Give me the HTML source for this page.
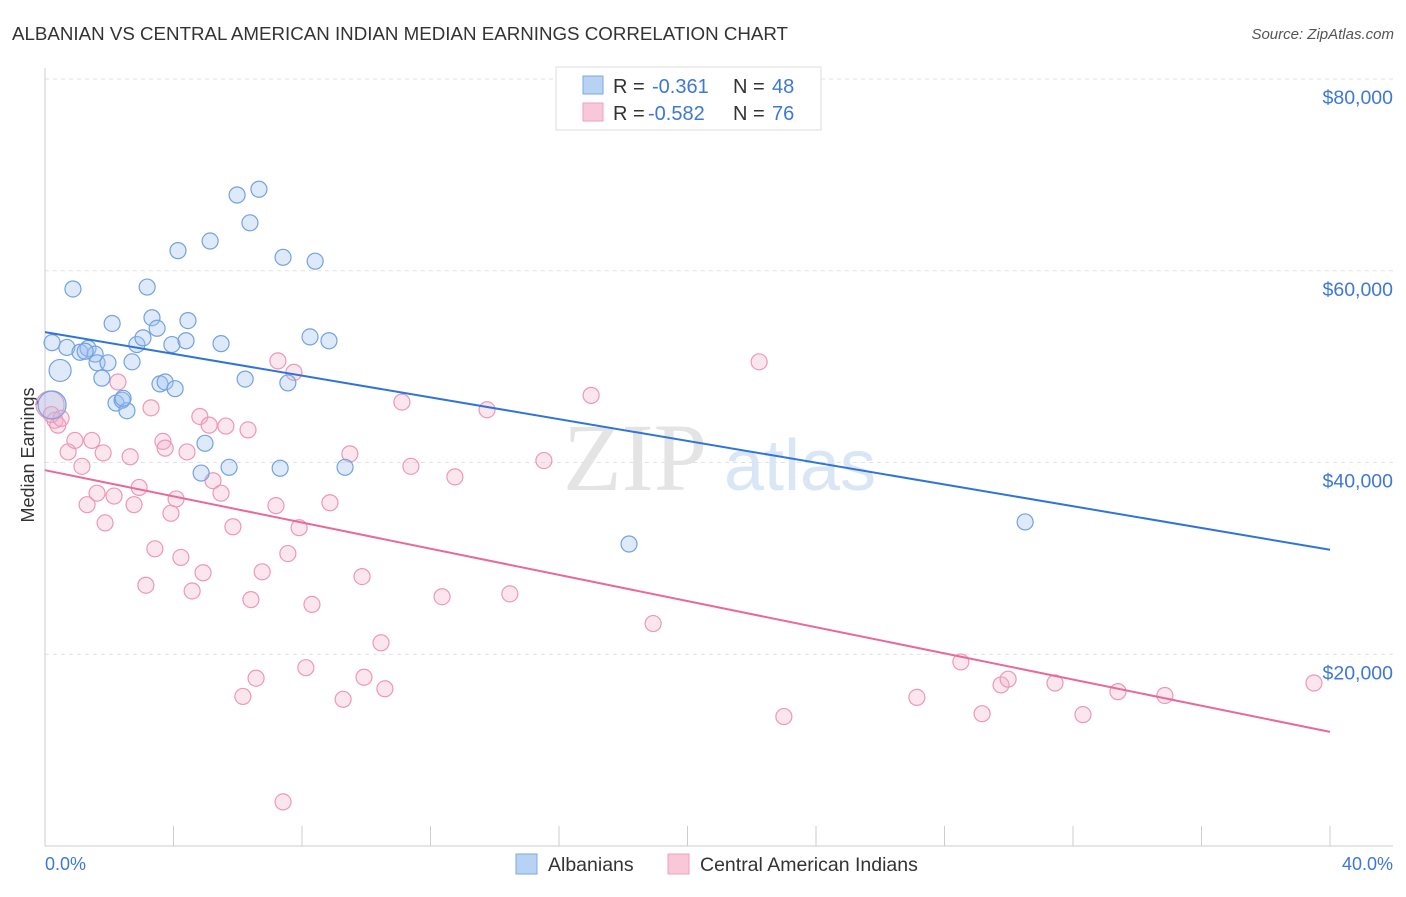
<!DOCTYPE html>
<html><head><meta charset="utf-8"><style>
body{margin:0;background:#fff;font-family:"Liberation Sans",sans-serif;}
svg text{font-family:"Liberation Sans",sans-serif;}
</style></head><body>
<svg width="1406" height="892" viewBox="0 0 1406 892">
<text x="12" y="40" font-size="18" fill="#333" textLength="776" lengthAdjust="spacingAndGlyphs">ALBANIAN VS CENTRAL AMERICAN INDIAN MEDIAN EARNINGS CORRELATION CHART</text>
<text x="1394" y="39" font-size="15" fill="#555" font-style="italic" text-anchor="end">Source: ZipAtlas.com</text>
<g id="grid"></g>
<g>
<text x="635" y="490" font-size="96" fill="#e4e4e4" text-anchor="middle" style="font-family:'Liberation Serif',serif">ZIP</text>
<text x="800" y="490" font-size="72" fill="#d8e6f6" text-anchor="middle">atlas</text>
</g>
<line x1="45" y1="68" x2="45" y2="846" stroke="#ccc"/>
<line x1="45" y1="846" x2="1393" y2="846" stroke="#ccc"/>
<g id="xticks"></g>
<g id="ylabels"></g>
<text x="45" y="870" font-size="18" fill="#3d78d8">0.0%</text>
<text x="1393" y="870" font-size="18" fill="#3d78d8" text-anchor="end">40.0%</text>
<text transform="translate(34,455) rotate(-90)" font-size="18" fill="#333" text-anchor="middle">Median Earnings</text>
<g id="pink"></g>
<g id="blue"></g>
<g id="trends"></g>
<g>
<rect x="556" y="67" width="265" height="63" fill="#fff" stroke="#ddd"/>
<rect x="583" y="76" width="20" height="18" fill="#b8d2f4" stroke="#7aa8e6"/>
<rect x="583" y="103" width="20" height="18" fill="#f9c8d8" stroke="#eea0bb"/>
<text x="613" y="93" font-size="20" fill="#333">R =<tspan x="652" fill="#3d78d8">-0.361</tspan><tspan x="733">N =</tspan><tspan x="772" fill="#3d78d8">48</tspan></text>
<text x="613" y="120" font-size="20" fill="#333">R =<tspan x="648" fill="#3d78d8">-0.582</tspan><tspan x="733">N =</tspan><tspan x="772" fill="#3d78d8">76</tspan></text>
</g>
<g>
<rect x="516" y="854" width="21" height="20" fill="#b8d2f4" stroke="#7aa8e6"/>
<text x="548" y="871" font-size="19.5" fill="#333">Albanians</text>
<rect x="668" y="854" width="21" height="20" fill="#f9c8d8" stroke="#eea0bb"/>
<text x="700" y="871" font-size="19.5" fill="#333">Central American Indians</text>
</g>
</svg>
<script>
const yTicks=[20000,40000,60000,80000];
const yTickLabels=["$20,000","$40,000","$60,000","$80,000"];
const xTicks=[4,8,12,16,20,24,28,32,36,40];
const blueX=[.22,.47,.87,.68,1.09,1.34,1.56,1.62,1.77,2.09,1.96,2.21,2.40,2.55,2.71,2.86,3.05,3.18,3.33,3.49,3.58,3.74,3.95,4.05,4.14,4.39,4.45,4.98,5.14,4.86,5.48,5.73,5.98,6.23,6.38,6.66,7.32,7.41,7.56,8.25,8.41,8.84,9.34,18.18,30.51,.22,2.43,1.25];
const blueY=[52.5,49.6,58.1,52.0,51.5,51.9,51.3,50.4,48.8,54.5,50.4,46.2,46.5,45.4,50.5,52.3,53.0,58.3,55.1,54.0,48.2,48.4,52.3,47.7,62.1,52.7,54.8,42.0,63.1,38.9,52.4,39.5,67.9,48.7,65.0,68.5,39.4,61.4,48.3,53.1,61.0,52.7,39.5,31.5,33.8,46.0,46.7,51.6];
const blueBig=[0,0.5,0,0,0,0,0,0,0,0,0,0,0,0,0,0,0,0,0,0,0,0,0,0,0,0,0,0,0,0,0,0,0,0,0,0,0,0,0,0,0,0,0,0,0,1,0,0];
const pinkX=[.16,.31,.40,.72,.93,1.15,1.31,1.46,1.62,1.87,1.81,2.15,2.27,2.65,2.77,2.93,3.14,3.30,3.42,3.67,3.74,3.92,4.08,4.23,4.42,4.58,4.82,4.92,5.11,5.23,5.48,5.63,5.85,6.16,6.32,6.41,6.57,6.76,7.19,7.25,7.41,7.56,7.75,7.91,8.12,8.31,8.87,9.28,9.49,9.87,9.93,10.46,10.58,11.11,11.39,12.36,12.76,13.76,14.47,15.53,17.00,18.93,22.23,23.00,27.14,28.51,29.17,29.76,29.98,31.44,32.31,33.40,34.86,39.50,.2,.5];
const pinkY=[46.0,44.4,43.9,41.1,42.3,39.6,35.6,42.3,36.8,33.7,41.0,36.5,48.4,40.6,35.6,37.4,27.2,45.7,31.0,42.2,41.5,34.7,36.2,30.1,41.1,26.6,44.8,28.5,43.9,38.1,36.8,43.8,33.3,15.6,43.4,25.7,17.5,28.6,35.5,50.6,4.6,30.5,49.4,33.2,18.6,25.2,35.8,15.3,40.9,28.1,17.6,21.2,16.4,46.3,39.6,26.0,38.5,45.5,26.3,40.2,47.0,23.2,50.5,13.5,15.5,19.2,13.8,16.8,17.4,17.0,13.7,16.1,15.7,17.0,45.0,44.6];
const pinkBig=[1,0,0,0,0,0,0,0,0,0,0,0,0,0,0,0,0,0,0,0,0,0,0,0,0,0,0,0,0,0,0,0,0,0,0,0,0,0,0,0,0,0,0,0,0,0,0,0,0,0,0,0,0,0,0,0,0,0,0,0,0,0,0,0,0,0,0,0,0,0,0,0,0,0,0,0];
const blueTrend=[53.6,30.9];
const pinkTrend=[39.2,11.9];
const NS="http://www.w3.org/2000/svg";
const X=v=>45+v/40*1285;
const Y=v=>846-v/20000*191.75;
function mk(t,a,p){const e=document.createElementNS(NS,t);for(const k in a)e.setAttribute(k,a[k]);p.appendChild(e);return e;}
const grid=document.getElementById('grid'),yl=document.getElementById('ylabels'),xt=document.getElementById('xticks');
yTicks.forEach((v,i)=>{
 const l=mk('line',{x1:45,x2:1393,y1:Y(v),y2:Y(v),stroke:'#e2e2e2','stroke-dasharray':'4,4'},grid);
 
 
 const t=mk('text',{x:1393,y:Y(v)+25,'font-size':19.5,fill:'#3d78d8','text-anchor':'end'},yl);
 t.textContent=yTickLabels[i];
 
 
});
xTicks.forEach(v=>{
 const l=mk('line',{x1:X(v),x2:X(v),y1:826,y2:846,stroke:'#ccc'},xt);
 
 
});
function pts(xs,ys,big,g,fill,stroke,name){
 xs.forEach((x,i)=>{
  const c=mk('circle',{cx:X(x),cy:Y(ys[i]*1000),r:8+big[i]*6,fill:fill,stroke:stroke,'stroke-width':1.2},g);
  
  
 });
}
pts(pinkX,pinkY,pinkBig,document.getElementById('pink'),'rgba(246,172,198,0.3)','#ec98b6','central-american-indian-point');
pts(blueX,blueY,blueBig,document.getElementById('blue'),'rgba(160,196,240,0.35)','#72a2e2','albanian-point');
const tr=document.getElementById('trends');
const b=mk('line',{x1:X(0),y1:Y(blueTrend[0]*1000),x2:X(40),y2:Y(blueTrend[1]*1000),stroke:'#2f74d8','stroke-width':2},tr);


const p=mk('line',{x1:X(0),y1:Y(pinkTrend[0]*1000),x2:X(40),y2:Y(pinkTrend[1]*1000),stroke:'#e8699a','stroke-width':2},tr);


</script>
</body></html>
